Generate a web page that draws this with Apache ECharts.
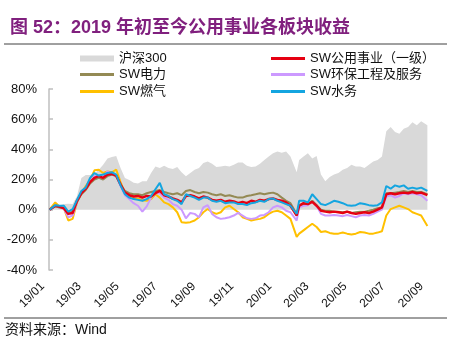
<!DOCTYPE html>
<html><head><meta charset="utf-8">
<script src="https://cdn.jsdelivr.net/npm/echarts@6/dist/echarts.min.js"></script>
<style>html,body{margin:0;padding:0;background:#fff}#c{width:474px;height:348px}</style>
</head><body><div id="c"></div>
<script>
const dates = ['2019-01-02','2019-01-04','2019-01-11','2019-01-18','2019-01-25','2019-02-01','2019-02-08','2019-02-15','2019-02-22','2019-03-01','2019-03-08',
'2019-03-15','2019-03-22','2019-03-29','2019-04-05','2019-04-12','2019-04-19','2019-04-26','2019-05-03','2019-05-10','2019-05-17',
'2019-05-24','2019-05-31','2019-06-07','2019-06-14','2019-06-21','2019-06-28','2019-07-05','2019-07-12','2019-07-19','2019-07-26',
'2019-08-02','2019-08-09','2019-08-16','2019-08-23','2019-08-30','2019-09-06','2019-09-13','2019-09-20','2019-09-27','2019-10-04',
'2019-10-11','2019-10-18','2019-10-25','2019-11-01','2019-11-08','2019-11-15','2019-11-22','2019-11-29','2019-12-06','2019-12-13',
'2019-12-20','2019-12-27','2020-01-03','2020-01-10','2020-01-17','2020-01-24','2020-02-03','2020-02-07','2020-02-14','2020-02-21',
'2020-02-28','2020-03-06','2020-03-13','2020-03-20','2020-03-27','2020-04-03','2020-04-10','2020-04-17','2020-04-24','2020-05-01',
'2020-05-08','2020-05-15','2020-05-22','2020-05-29','2020-06-05','2020-06-12','2020-06-19','2020-06-26','2020-07-03','2020-07-10',
'2020-07-17','2020-07-24','2020-07-31','2020-08-07','2020-08-14','2020-08-21','2020-08-31'];

const hs300 = [0,0.5,2.6,3,3.7,4,3.7,9,21,23,23,24,26.5,29.8,34,35,35.6,27.6,21,19.6,17.8,
17.4,18.9,18.9,24.3,28.7,27.6,29.1,27.6,27,28.3,24.8,22.2,24.3,26.5,27.6,30.9,32,30.4,28.3,28.7,
29.1,28.7,29.8,31.3,31.3,29.1,28.3,28.7,30.4,33,35.2,37.4,38.5,37.8,38.5,35.2,24.8,33,35.2,37.4,
34,35.6,23.3,18.9,21.7,23.3,24.3,26.5,27.6,29.8,28.7,28.7,27.6,29.8,32,33,35.2,52,54.8,51.5,
50.4,53.7,54.8,58,55.9,58.7,55.9];
const gongyong = [0,0,2.6,2,0.9,-2.8,-2.2,5.9,10.9,13.9,18.3,21.1,22.2,21.1,23.3,23.7,22.6,16.7,11.3,9.6,8.7,
9.1,8,9.1,8.7,10.9,12.4,9.6,8.7,7.4,6.5,4.8,9.1,9.6,8.7,7.4,8.7,8,6.5,5.9,6.5,
5.2,5.9,5.4,4.3,5.2,4.3,5.9,5.2,6.5,5.9,7,7.4,6.5,5.9,4.8,2.6,-3.9,2.6,4.3,3.7,
5.2,2.6,-0.7,-1.3,-1.7,-1.3,-1.7,-2.2,-1.3,-2.2,-2.8,-2.2,-1.7,-2.2,-1.3,0,1.5,10.2,10.9,10.2,
10.9,11.3,10.9,11.7,10.9,11.3,9.6];
const dianli = [0,0.5,2.2,1.5,0.9,-2.2,-1.3,5.2,10.2,13,17.4,20,21.1,20,22.2,23.3,22.2,16.7,12.4,10.9,10.2,
10.2,9.6,10.9,11.7,12.4,13,11.7,10.9,10.2,10.9,9.6,12.4,13,11.7,10.9,11.7,11.3,10.2,9.6,10.2,
9.1,9.6,8.7,8,8,9.1,9.6,10.2,10.9,10.2,10.9,11.3,10.2,8,5.9,4.3,-2.8,3,3.7,3.7,
5.9,3,0,-0.7,-0.7,-1.3,-1.3,-1.7,-1.3,-2.2,-1.7,-1.3,-1.3,-0.7,0,0.9,1.5,10.9,10.9,11.3,
11.7,12.4,11.7,12.4,11.7,11.7,10.2];
const huanbao = [0,-1,2.2,1.5,0.4,-5,-3.9,4.8,10.9,14.6,18.9,22.2,22.6,21.7,25.4,23.3,22.2,15.7,9.6,7,4.3,
2.6,-1.3,2.2,8,10.9,10.9,8,6.5,3.7,2.6,0,-5.7,-2.2,-2.8,-5,1.5,3,-2.8,-5,-6.1,
-5.7,-5,-3.9,-2.2,-3.9,-5.7,-6.1,-5.7,-3.9,-3.5,-1.7,1.5,2.6,1.5,-0.7,-1.7,-7.2,1.5,2.6,3,
5.9,2.6,-2.8,-3.9,-3.9,-3.5,-3.9,-4.3,-3.5,-4.3,-5,-3.9,-3.5,-3.9,-2.8,-1.3,0,8.7,9.6,8,
9.1,10.9,10.2,10.9,10.2,9.6,5.9];
const ranqi = [0,0,4.8,2,0.9,-7.2,-6.1,4.8,10.9,15.7,19.6,26.1,26.5,24.3,25.4,24.8,26.5,18.3,10.9,8.7,7.4,
7.4,6.3,5.9,7,10.2,8,4.8,3.7,1.5,-1.7,-8.3,-8.7,-8.3,-7.2,-5,-1.7,0.4,-1.7,-2.8,-1.7,
1.5,2.6,0.4,-1.7,-5,-6.1,-7.2,-6.5,-6.1,-5,-2.8,-1.3,-0.7,-1.7,-3.9,-6.1,-18,-15.9,-13.7,-11.5,
-9.3,-11.5,-14.8,-14.3,-15.4,-15.9,-15.9,-15.2,-15.9,-16.5,-15.9,-14.8,-15.2,-15.9,-15.9,-15.2,-14.3,-3.9,0.4,1.5,
2.6,1.5,0.4,-1.7,-2.8,-3.9,-10.9];
const shuiwu = [0,0.5,3,2.6,2.6,-1.3,0.4,6.5,12.4,14.6,21.1,24.3,22.6,23.3,24.3,24.8,23.3,16.1,10.2,8,7,
6.5,5.9,7,9.1,13.5,17.8,10.2,9.1,7,5.9,3.7,10.2,9.1,8,6.5,8,8,5.9,5.2,5.9,
4.3,4.8,4.8,3.7,3.7,3,4.3,4.8,5.9,5.2,7,7.4,5.9,4.8,3.7,2.6,-2.8,5.9,5.9,4.8,
10.2,7,3.7,3,4.3,5.9,5.2,4.3,3,2.6,3,4.3,3.7,3,2.6,3,4.8,15.7,13.9,16.1,
15.2,16.1,13.9,14.6,13.9,14.6,12.4];

const tickDates = ['2019-01-01','2019-03-01','2019-05-01','2019-07-01','2019-09-01','2019-11-01','2020-01-01','2020-03-01','2020-05-01','2020-07-01','2020-09-01'];
const tickLabels = ['19/01','19/03','19/05','19/07','19/09','19/11','20/01','20/03','20/05','20/07','20/09'];

const names = {hs:'沪深300', gy:'SW公用事业（一级）', dl:'SW电力', hb:'SW环保工程及服务', rq:'SW燃气', sw:'SW水务'};
const colors = {hs:'#D9D9D9', gy:'#E60012', dl:'#948A54', hb:'#CC99FF', rq:'#FFC000', sw:'#14A5E0'};

function toTs(s){const p=s.split('-');return Date.UTC(+p[0],+p[1]-1,+p[2]);}
function pairs(arr){return arr.map((v,i)=>[toTs(dates[i]),v]);}
const tickTs = tickDates.map(toTs);

const chart = echarts.init(document.getElementById('c'), null, {renderer:'canvas'});
const FONT = "'Liberation Sans', Arial, 'Noto Sans CJK SC', sans-serif";

function leg(name, left, top, h){
  return {data:[name], left:left, top:top, itemWidth:34, itemHeight:h, icon:'rect', selectedMode:false,
    textStyle:{fontSize:13, color:'#111', fontFamily:FONT}, padding:0, itemGap:0};
}
function line(key, arr, w, z){
  return {name:names[key], type:'line', data:pairs(arr), showSymbol:false, symbol:'none', z:z,
    color:colors[key], lineStyle:{color:colors[key], width:w}};
}

chart.setOption({
  animation:false,
  grid:{left:49, right:46, top:89, bottom:78, containLabel:false},
  title:{text:'图 52：2019 年初至今公用事业各板块收益', left:5, top:14,
    textStyle:{fontSize:18, fontWeight:'bold', color:'#80207E', fontFamily:FONT}},
  legend:[
    leg(names.hs, 80, 52, 6),
    leg(names.dl, 80, 68, 3),
    leg(names.rq, 80, 85, 3),
    leg(names.gy, 271, 52, 3),
    leg(names.hb, 271, 68, 3),
    leg(names.sw, 271, 85, 3)
  ],
  xAxis:{type:'value', min:toTs('2019-01-01'), max:toTs('2020-09-01'), scale:true,
    axisLine:{show:false}, axisTick:{show:false}, splitLine:{show:false},
    axisLabel:{customValues:tickTs, rotate:45, margin:8, padding:[0,9,0,0], fontSize:12, color:'#111', fontFamily:FONT,
      hideOverlap:false, showMinLabel:true, showMaxLabel:true,
      formatter:function(v){const i=tickTs.indexOf(v);return i>=0?tickLabels[i]:'';}}},
  yAxis:{type:'value', min:-40, max:80, interval:20,
    axisLine:{show:true, lineStyle:{color:'#BFBFBF', width:1.5}},
    axisTick:{show:true, inside:true, length:4, lineStyle:{color:'#BFBFBF', width:1.5}},
    splitLine:{show:false},
    axisLabel:{margin:12, fontSize:13, color:'#111', fontFamily:FONT, formatter:'{value}%'}},
  series:[
    {name:names.hs, type:'line', data:pairs(hs300), showSymbol:false, symbol:'none', z:1,
      color:colors.hs, lineStyle:{width:0, color:colors.hs}, areaStyle:{color:colors.hs, opacity:1}},
    line('rq', ranqi, 2, 2),
    line('hb', huanbao, 2, 3),
    line('dl', dianli, 2, 4),
    line('gy', gongyong, 2.5, 5),
    line('sw', shuiwu, 2, 6)
  ],
  graphic:[
    {type:'line', shape:{x1:4,y1:44,x2:447,y2:44}, style:{stroke:'#404040', lineWidth:1}},
    {type:'line', shape:{x1:4,y1:318,x2:447,y2:318}, style:{stroke:'#404040', lineWidth:1}},
    {type:'text', left:5, top:323, style:{text:'资料来源：Wind', fill:'#111', font:"14px 'Liberation Sans', Arial, 'Noto Sans CJK SC', sans-serif"}}
  ]
});
</script>
</body></html>
